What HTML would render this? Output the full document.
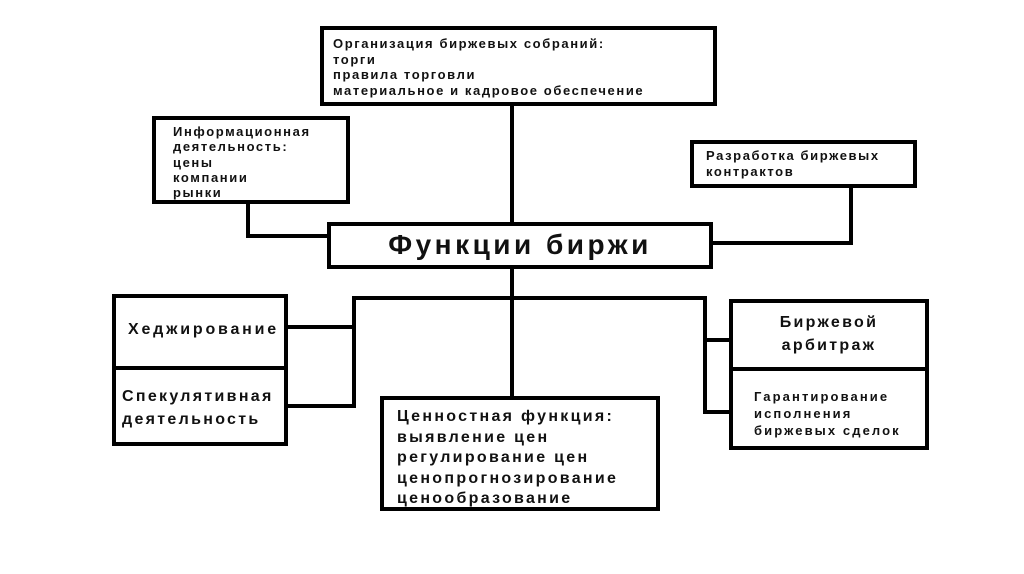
<!DOCTYPE html>
<html><head><meta charset="utf-8"><style>
body{margin:0;width:1024px;height:574px;background:#fff;position:relative;overflow:hidden;font-family:"Liberation Sans","DejaVu Sans",sans-serif;font-weight:bold;color:#111}
.b{position:absolute;border:4px solid #000;box-sizing:border-box;background:#fff}
.l{position:absolute;background:#000}
.t{position:absolute;line-height:1.25;white-space:nowrap}
.s{font-size:13px;letter-spacing:1.6px;line-height:16px}
.m{font-size:16px;letter-spacing:2.3px}
</style></head><body>
<!-- lines -->
<div class="l" style="left:510px;top:104px;width:4px;height:120px"></div>
<div class="l" style="left:246px;top:203px;width:4px;height:35px"></div>
<div class="l" style="left:246px;top:234px;width:83px;height:4px"></div>
<div class="l" style="left:849px;top:187px;width:4px;height:58px"></div>
<div class="l" style="left:710px;top:241px;width:143px;height:4px"></div>
<div class="l" style="left:510px;top:266px;width:4px;height:132px"></div>
<div class="l" style="left:352px;top:296px;width:355px;height:4px"></div>
<div class="l" style="left:352px;top:296px;width:4px;height:112px"></div>
<div class="l" style="left:285px;top:325px;width:70px;height:4px"></div>
<div class="l" style="left:285px;top:404px;width:70px;height:4px"></div>
<div class="l" style="left:703px;top:296px;width:4px;height:118px"></div>
<div class="l" style="left:703px;top:338px;width:29px;height:4px"></div>
<div class="l" style="left:703px;top:410px;width:29px;height:4px"></div>
<!-- boxes -->
<div class="b" style="left:320px;top:26px;width:397px;height:80px"></div>
<div class="t s" style="left:333px;top:36px;line-height:15.5px">Организация биржевых собраний:<br>торги<br>правила торговли<br>материальное и кадровое обеспечение</div>
<div class="b" style="left:152px;top:116px;width:198px;height:88px"></div>
<div class="t s" style="left:173px;top:124px;line-height:15.3px">Информационная<br>деятельность:<br>цены<br>компании<br>рынки</div>
<div class="b" style="left:690px;top:140px;width:227px;height:48px"></div>
<div class="t s" style="left:706px;top:148px">Разработка биржевых<br>контрактов</div>
<div class="b" style="left:327px;top:222px;width:386px;height:47px"></div>
<div class="t" style="left:327px;top:227px;width:386px;text-align:center;font-size:28px;letter-spacing:3.5px">Функции биржи</div>
<div class="b" style="left:112px;top:294px;width:176px;height:152px"></div>
<div class="l" style="left:112px;top:366px;width:176px;height:4px"></div>
<div class="t m" style="left:128px;top:320px;letter-spacing:2.8px">Хеджирование</div>
<div class="t m" style="left:122px;top:385px;line-height:1.45">Спекулятивная<br>деятельность</div>
<div class="b" style="left:729px;top:299px;width:200px;height:151px"></div>
<div class="l" style="left:729px;top:367px;width:200px;height:4px"></div>
<div class="t m" style="left:729px;top:311px;width:200px;text-align:center;line-height:1.45">Биржевой<br>арбитраж</div>
<div class="t s" style="left:754px;top:388px;letter-spacing:2.1px;line-height:17px">Гарантирование<br>исполнения<br>биржевых сделок</div>
<div class="b" style="left:380px;top:396px;width:280px;height:115px"></div>
<div class="t m" style="left:397px;top:407px;line-height:20.5px">Ценностная функция:<br>выявление цен<br>регулирование цен<br>ценопрогнозирование<br>ценообразование</div>
</body></html>
